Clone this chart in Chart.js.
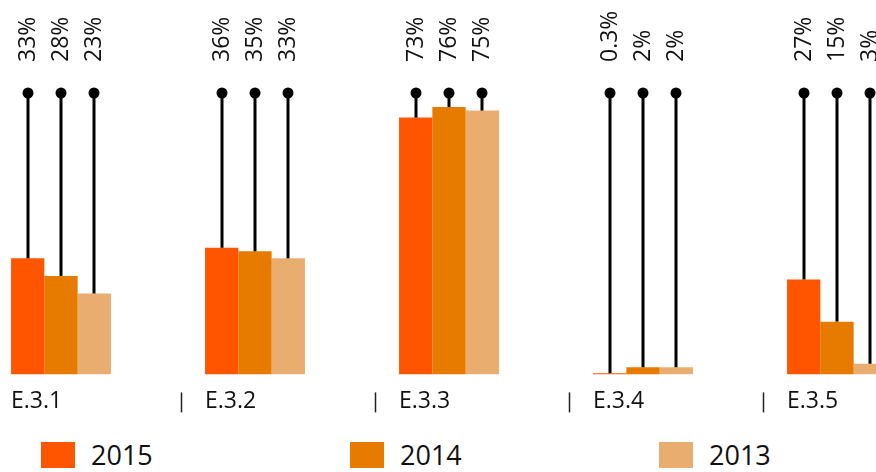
<!DOCTYPE html>
<html>
<head>
<meta charset="utf-8">
<script src="https://cdn.jsdelivr.net/npm/chart.js@4/dist/chart.umd.min.js"></script>
<style>
  html, body { margin: 0; padding: 0; background: #fff; overflow: hidden; }
  #wrap { position: relative; width: 876px; height: 472px; overflow: hidden; }
  #chart { position: absolute; left: -36px; top: 0; }
  #legend { position: absolute; left: 41px; top: 442px; display: flex; font-family: "Open Sans", sans-serif; }
  .item { display: flex; align-items: center; width: 309px; }
  .swatch { width: 34px; height: 26px; margin-right: 16px; }
  .label { font-size: 27px; line-height: 26px; color: #111; }
</style>
</head>
<body>
<div id="wrap">
  <canvas id="chart" width="970" height="434"></canvas>
  <div id="legend"></div>
</div>
<script>
// Indicator groups along the x axis
const categories = ['E.3.1', 'E.3.2', 'E.3.3', 'E.3.4', 'E.3.5'];
// One series per year
const years = ['2015', '2014', '2013'];
const values2015 = [33, 36, 73, 0.3, 27];
const values2014 = [28, 35, 76, 2, 15];
const values2013 = [23, 33, 75, 2, 3];
const yearColors = ['#FF5400', '#E77B00', '#E9AE6F'];

const seriesValues = [values2015, values2014, values2013];
const fmtPct = v => v + '%';

Chart.defaults.font.family = '"Open Sans", sans-serif';

// Pins: a stem from the top of the plot down to each bar, a dot on top and the rotated value above
const pinPlugin = {
  id: 'pins',
  afterDatasetsDraw(chart) {
    const { ctx, chartArea } = chart;
    ctx.save();
    chart.data.datasets.forEach((ds, di) => {
      const meta = chart.getDatasetMeta(di);
      meta.data.forEach((bar, i) => {
        const x = Math.round(bar.x);
        ctx.strokeStyle = '#000';
        ctx.lineWidth = 3;
        ctx.beginPath();
        ctx.moveTo(x, chartArea.top);
        ctx.lineTo(x, bar.y);
        ctx.stroke();
        ctx.fillStyle = '#000';
        ctx.beginPath();
        ctx.arc(x, chartArea.top, 5.5, 0, Math.PI * 2);
        ctx.fill();
        ctx.save();
        ctx.translate(x, chartArea.top - 31);
        ctx.rotate(-Math.PI / 2);
        ctx.font = '23px "Open Sans", sans-serif';
        ctx.textAlign = 'left';
        ctx.textBaseline = 'middle';
        ctx.fillStyle = '#111';
        ctx.fillText(fmtPct(ds.data[i]), 0, 0);
        ctx.restore();
      });
    });
    ctx.restore();
  }
};

// Short vertical separators between the category labels
const separatorPlugin = {
  id: 'separators',
  afterDraw(chart) {
    const { ctx, chartArea } = chart;
    const xs = chart.scales.x;
    const band = xs.width / categories.length;
    ctx.save();
    ctx.strokeStyle = '#222';
    ctx.lineWidth = 1.5;
    categories.forEach((c, i) => {
      const x = Math.round(xs.getPixelForValue(i) + band * 0.62) + 0.5;
      ctx.beginPath();
      ctx.moveTo(x, chartArea.bottom + 18);
      ctx.lineTo(x, chartArea.bottom + 38);
      ctx.stroke();
    });
    ctx.restore();
  }
};

const chart = new Chart(document.getElementById('chart'), {
  type: 'bar',
  data: {
    labels: categories,
    datasets: years.map((y, i) => ({
      label: y,
      data: seriesValues[i],
      backgroundColor: yearColors[i],
      borderWidth: 0,
      categoryPercentage: 0.515,
      barPercentage: 1.0
    }))
  },
  options: {
    responsive: false,
    animation: false,
    devicePixelRatio: 1,
    layout: { padding: { top: 93, bottom: 6, left: 0, right: 0 } },
    plugins: { legend: { display: false }, tooltip: { enabled: false } },
    scales: {
      x: {
        grid: { display: false, drawTicks: false },
        border: { display: false },
        ticks: {
          color: '#111',
          font: { size: 23 },
          align: 'start',
          labelOffset: -50,
          padding: 13,
          maxRotation: 0,
          autoSkip: false
        }
      },
      y: {
        display: false,
        min: 0,
        max: 80
      }
    }
  },
  plugins: [pinPlugin, separatorPlugin]
});

// Legend built from the chart's datasets
const legend = document.getElementById('legend');
chart.data.datasets.forEach(ds => {
  const item = document.createElement('div');
  item.className = 'item';
  const sw = document.createElement('div');
  sw.className = 'swatch';
  sw.style.background = ds.backgroundColor;
  const lb = document.createElement('span');
  lb.className = 'label';
  lb.textContent = ds.label;
  item.appendChild(sw);
  item.appendChild(lb);
  legend.appendChild(item);
});
</script>
</body>
</html>
